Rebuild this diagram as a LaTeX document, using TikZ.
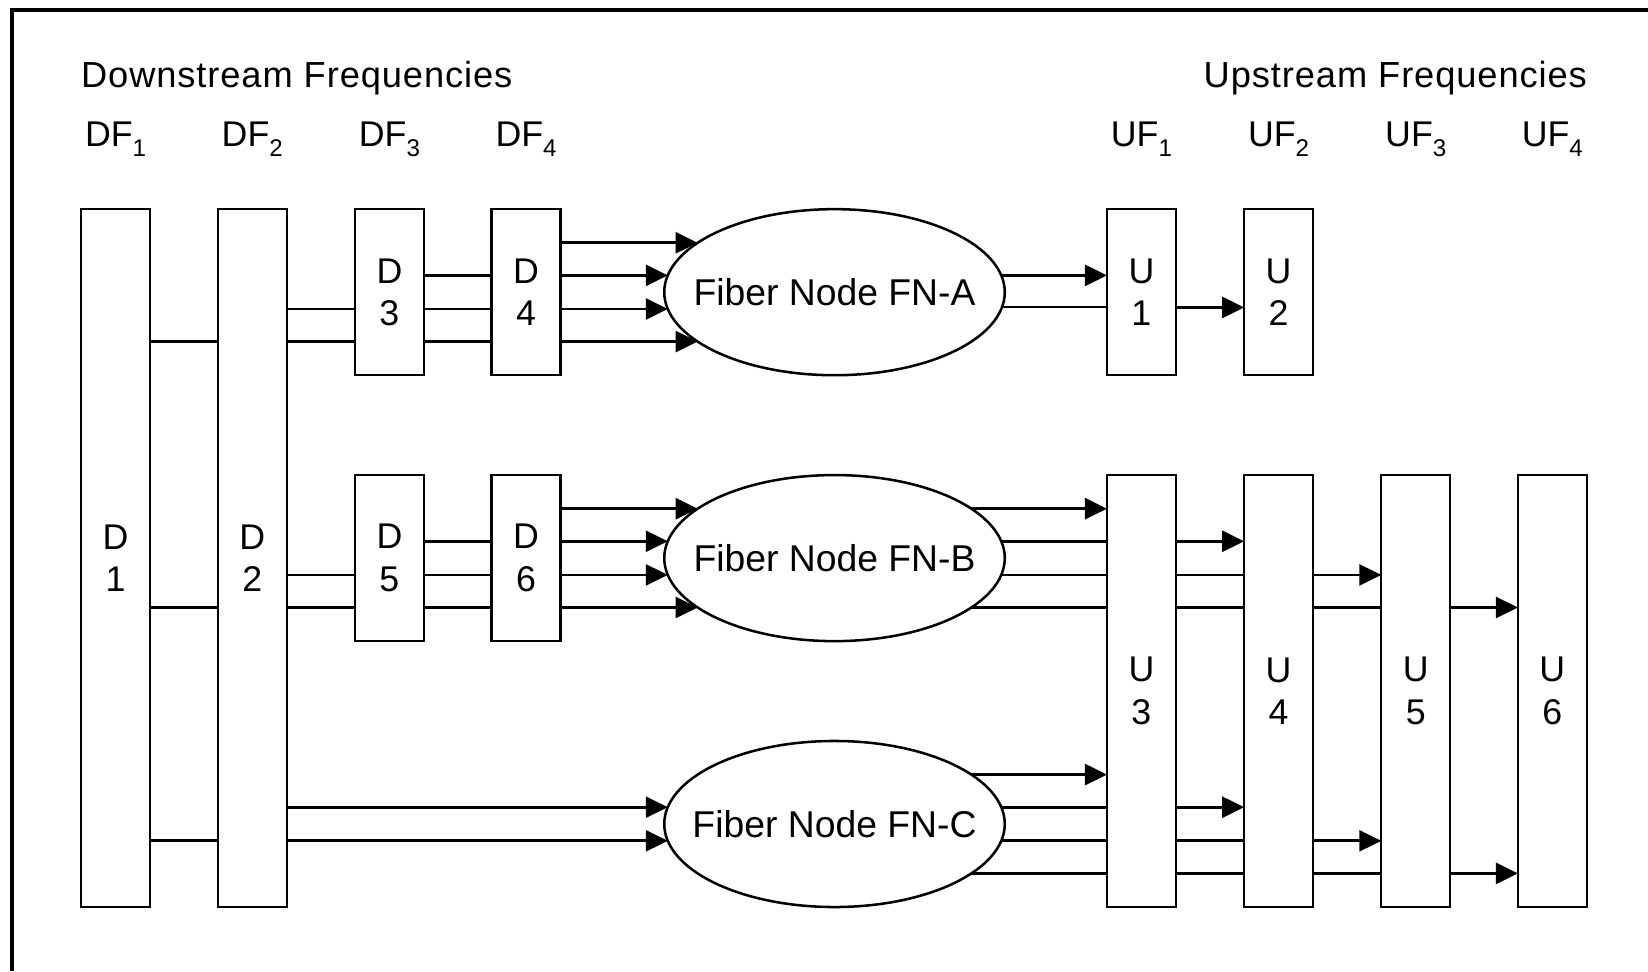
\documentclass[tikz,border=0pt]{standalone}
\usepackage{fontspec}
\setmainfont{Liberation Sans}
\newfontfamily\ttlfont[LetterSpace=2.5]{Liberation Sans}
\usetikzlibrary{shapes.geometric,arrows.meta,calc}
\newcommand{\mysub}[1]{\raisebox{-9pt}{\fontsize{23}{23}\selectfont #1}}
\begin{document}
\begin{tikzpicture}[x=1pt,y=-1pt,
  blk/.style={draw, line width=2.2pt, minimum width=65.5pt, inner sep=0pt, outer sep=0pt, align=center, font=\fontsize{34}{40.5}\selectfont},
  fib/.style={draw, ellipse, line width=2.4pt, minimum width=324pt, minimum height=158pt, inner sep=0pt, outer sep=0pt,
    label={[inner sep=0pt, font=\fontsize{35.5}{40}\selectfont]center:#1}},
  ttl/.style={inner sep=0pt, font=\ttlfont\fontsize{34.5}{38}\selectfont},
  lbl/.style={inner sep=0pt, anchor=base, font=\fontsize{34}{38}\selectfont},
  ln/.style={line width=2.6pt},
  arr/.style={ln, -{Triangle[length=21pt,width=20pt]}}
]
\useasboundingbox (0,0) rectangle (1568,924);
\fill[white] (0,0) rectangle (1568,924);
% frame (only top and left sides visible)
\draw[line width=3.5pt] (11.5,924) -- (11.5,9.5) -- (1568,9.5);

% titles
\node[ttl, anchor=base west] (tdown) at (77,83) {Downstream Frequencies};
\node[ttl, anchor=base east] (tup) at (1510,83) {Upstream Frequencies};

% column labels
\node[lbl] (df1) at (110,139.6) {DF\mysub{1}};
\node[lbl] (df2) at (240,139.6) {DF\mysub{2}};
\node[lbl] (df3) at (370.5,139.6) {DF\mysub{3}};
\node[lbl] (df4) at (500.5,139.6) {DF\mysub{4}};
\node[lbl] (uf1) at (1086,139.6) {UF\mysub{1}};
\node[lbl] (uf2) at (1216.5,139.6) {UF\mysub{2}};
\node[lbl] (uf3) at (1347,139.6) {UF\mysub{3}};
\node[lbl] (uf4) at (1477,139.6) {UF\mysub{4}};

% downstream blocks
\node[blk, minimum height=664pt] (D1) at (110,531) {D\\1};
\node[blk, minimum height=664pt] (D2) at (240,531) {D\\2};
\node[blk, minimum height=158pt] (D3) at (370.5,278) {D\\3};
\node[blk, minimum height=158pt] (D4) at (500.5,278) {D\\4};
\node[blk, minimum height=158pt] (D5) at (370.5,531) {D\\5};
\node[blk, minimum height=158pt] (D6) at (500.5,531) {D\\6};

% upstream blocks
\node[blk, minimum height=158pt] (U1) at (1086,278) {U\\1};
\node[blk, minimum height=158pt] (U2) at (1216.5,278) {U\\2};
\node[blk, minimum height=411pt] (U3) at (1086,657.5) {U\\3};
\node[blk, minimum height=411pt] (U4) at (1216.5,657.5) {U\\4};
\node[blk, minimum height=411pt] (U5) at (1347,657.5) {U\\5};
\node[blk, minimum height=411pt] (U6) at (1477,657.5) {U\\6};

% fiber nodes
\node[fib={Fiber Node FN-A}] (FNA) at (794,278) {};
\node[fib={Fiber Node FN-B}] (FNB) at (794,531) {};
\node[fib={Fiber Node FN-C}] (FNC) at (794,784) {};

% ---- group A (downstream) ----
\draw[ln] (D1.east |- 0,325) -- (D2.west |- 0,325);
\draw[ln] (D2.east |- 0,294) -- (D3.west |- 0,294);
\draw[ln] (D2.east |- 0,325) -- (D3.west |- 0,325);
\draw[ln] (D3.east |- 0,262) -- (D4.west |- 0,262);
\draw[ln] (D3.east |- 0,294) -- (D4.west |- 0,294);
\draw[ln] (D3.east |- 0,325) -- (D4.west |- 0,325);
\draw[arr] (D4.east |- 0,231) -- ($(FNA.center)+(-130.2,-47)$);
\draw[arr] (D4.east |- 0,262) -- ($(FNA.center)+(-158.6,-16)$);
\draw[arr] (D4.east |- 0,294) -- ($(FNA.center)+(-158.6,16)$);
\draw[arr] (D4.east |- 0,325) -- ($(FNA.center)+(-130.2,47)$);
% group A (upstream)
\draw[arr] ($(FNA.center)+(158.6,-16)$) -- (U1.west |- 0,262);
\draw[ln] ($(FNA.center)+(159.4,14)$) -- (U1.west |- 0,292);
\draw[arr] (U1.east |- 0,292.5) -- (U2.west |- 0,292.5);

% ---- group B (downstream) ----
\draw[ln] (D1.east |- 0,578) -- (D2.west |- 0,578);
\draw[ln] (D2.east |- 0,547) -- (D5.west |- 0,547);
\draw[ln] (D2.east |- 0,578) -- (D5.west |- 0,578);
\draw[ln] (D5.east |- 0,515) -- (D6.west |- 0,515);
\draw[ln] (D5.east |- 0,547) -- (D6.west |- 0,547);
\draw[ln] (D5.east |- 0,578) -- (D6.west |- 0,578);
\draw[arr] (D6.east |- 0,484) -- ($(FNB.center)+(-130.2,-47)$);
\draw[arr] (D6.east |- 0,515) -- ($(FNB.center)+(-158.6,-16)$);
\draw[arr] (D6.east |- 0,547) -- ($(FNB.center)+(-158.6,16)$);
\draw[arr] (D6.east |- 0,578) -- ($(FNB.center)+(-130.2,47)$);
% group B (upstream)
\draw[arr] ($(FNB.center)+(130.2,-47)$) -- (U3.west |- 0,484);
\draw[ln] ($(FNB.center)+(158.6,-16)$) -- (U3.west |- 0,515);
\draw[arr] (U3.east |- 0,515) -- (U4.west |- 0,515);
\draw[ln] ($(FNB.center)+(158.6,16)$) -- (U3.west |- 0,547);
\draw[ln] (U3.east |- 0,547) -- (U4.west |- 0,547);
\draw[arr] (U4.east |- 0,547) -- (U5.west |- 0,547);
\draw[ln] ($(FNB.center)+(130.2,47)$) -- (U3.west |- 0,578);
\draw[ln] (U3.east |- 0,578) -- (U4.west |- 0,578);
\draw[ln] (U4.east |- 0,578) -- (U5.west |- 0,578);
\draw[arr] (U5.east |- 0,578) -- (U6.west |- 0,578);

% ---- group C (downstream) ----
\draw[ln] (D1.east |- 0,800) -- (D2.west |- 0,800);
\draw[arr] (D2.east |- 0,768) -- ($(FNC.center)+(-158.6,-16)$);
\draw[arr] (D2.east |- 0,800) -- ($(FNC.center)+(-158.6,16)$);
% group C (upstream)
\draw[arr] ($(FNC.center)+(130.2,-47)$) -- (U3.west |- 0,737);
\draw[ln] ($(FNC.center)+(158.6,-16)$) -- (U3.west |- 0,768);
\draw[arr] (U3.east |- 0,768) -- (U4.west |- 0,768);
\draw[ln] ($(FNC.center)+(158.6,16)$) -- (U3.west |- 0,800);
\draw[ln] (U3.east |- 0,800) -- (U4.west |- 0,800);
\draw[arr] (U4.east |- 0,800) -- (U5.west |- 0,800);
\draw[ln] ($(FNC.center)+(130.2,47)$) -- (U3.west |- 0,831);
\draw[ln] (U3.east |- 0,831) -- (U4.west |- 0,831);
\draw[ln] (U4.east |- 0,831) -- (U5.west |- 0,831);
\draw[arr] (U5.east |- 0,831) -- (U6.west |- 0,831);
\end{tikzpicture}
\end{document}
